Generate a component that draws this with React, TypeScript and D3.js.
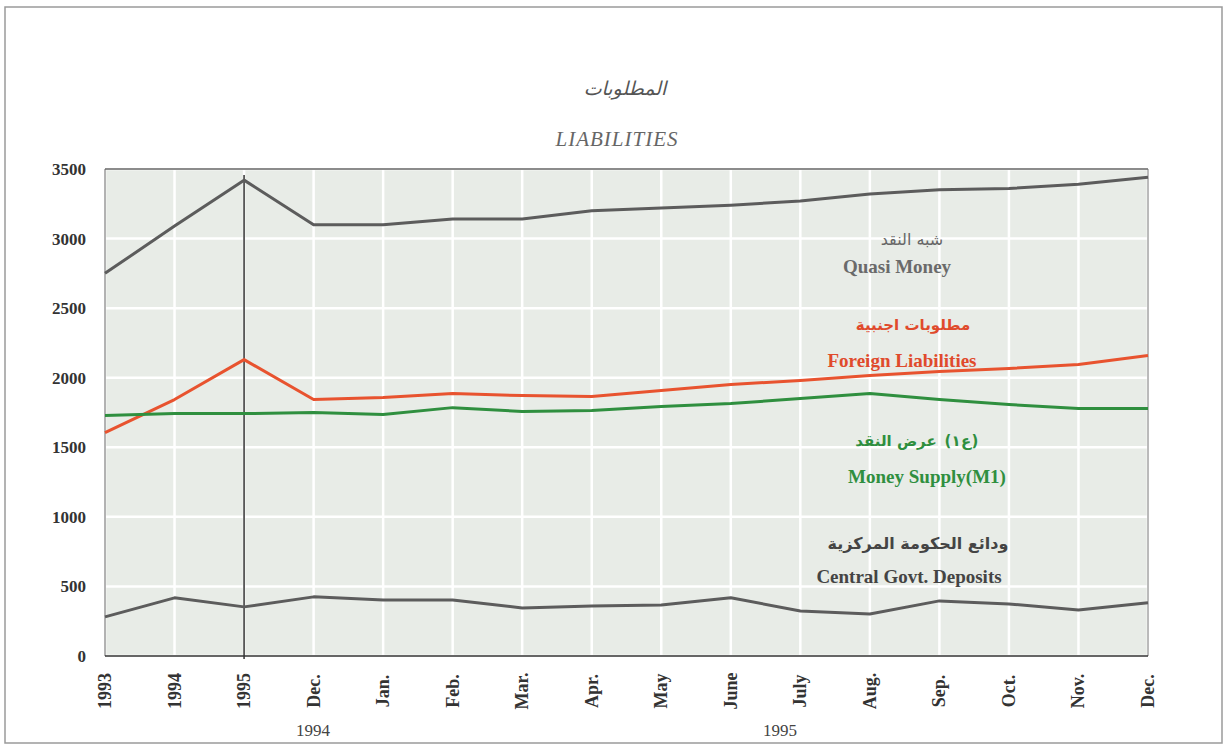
import React from "react";
import * as d3 from "d3";

const categories = ["1993", "1994", "1995", "Dec.", "Jan.", "Feb.", "Mar.", "Apr.", "May", "June", "July", "Aug.", "Sep.", "Oct.", "Nov.", "Dec."];
const quasiMoney = [2750, 3090, 3420, 3100, 3100, 3140, 3140, 3200, 3220, 3240, 3270, 3320, 3350, 3360, 3390, 3440];
const foreignLiabilities = [1605, 1843, 2130, 1843, 1857, 1886, 1872, 1865, 1908, 1951, 1980, 2016, 2045, 2066, 2095, 2160];
const moneySupply = [1728, 1742, 1742, 1750, 1735, 1785, 1757, 1764, 1793, 1814, 1850, 1886, 1843, 1807, 1778, 1778];
const centralGovt = [281, 418, 353, 425, 403, 403, 345, 360, 367, 418, 324, 302, 396, 374, 331, 382];
const yTicks = [0, 500, 1000, 1500, 2000, 2500, 3000, 3500];
const m1Glyphs = ["(", "١", "ع", ")"];

const W = 1229, H = 746;
const left = 105, right = 1148, top = 169, bottom = 656;

export default function App() {
  const x = d3.scalePoint<number>().domain(d3.range(categories.length)).range([left, right]);
  const y = d3.scaleLinear().domain([0, 3500]).range([bottom, top]);
  const line = d3.line<number>().x((_, i) => x(i)!).y((v) => y(v));
  const serif = "'Liberation Serif', 'Times New Roman', serif";
  const arabic = "'DejaVu Sans', sans-serif";
  const series = [
    { data: quasiMoney, color: "#5c5c5c" },
    { data: foreignLiabilities, color: "#e8532f" },
    { data: moneySupply, color: "#2f8f3f" },
    { data: centralGovt, color: "#5c5c5c" },
  ];
  const glyphX = [948, 956, 966, 975];
  return (
    <svg width={W} height={H} style={{ position: "absolute", left: 0, top: 0, background: "#fff" }}>
      <rect x={5} y={7} width={1217} height={736} fill="#fff" stroke="#9a9a9a" strokeWidth={1.5} />
      <text x={625} y={95} textAnchor="middle" fontFamily={arabic} fontStyle="italic" fontSize={19} fill="#555">المطلوبات</text>
      <text x={617} y={146} textAnchor="middle" fontFamily={serif} fontStyle="italic" fontSize={21} letterSpacing={1} fill="#666">LIABILITIES</text>
      <rect x={left} y={top} width={right - left} height={bottom - top} fill="#e8ece7" />
      {yTicks.map((t) => (
        <line key={"h" + t} x1={left} x2={right} y1={y(t)} y2={y(t)} stroke="#fff" strokeWidth={2.5} />
      ))}
      {categories.map((_, i) => (
        <line key={"v" + i} x1={x(i)} x2={x(i)} y1={top} y2={bottom} stroke="#fff" strokeWidth={2.5} />
      ))}
      <line x1={left} x2={right} y1={top} y2={top} stroke="#666" strokeWidth={1.5} />
      <line x1={left} x2={left} y1={top} y2={bottom} stroke="#666" strokeWidth={1} />
      <line x1={right} x2={right} y1={top} y2={bottom} stroke="#777" strokeWidth={1} />
      <line x1={left} x2={right} y1={bottom} y2={bottom} stroke="#333" strokeWidth={1.5} />
      <line x1={x(2)} x2={x(2)} y1={175} y2={bottom + 3} stroke="#333" strokeWidth={1.5} />
      {series.map((s, i) => (
        <path key={i} d={line(s.data)!} fill="none" stroke={s.color} strokeWidth={3} strokeLinejoin="round" />
      ))}
      {yTicks.map((t) => (
        <text key={"yl" + t} x={86} y={y(t) + 6} textAnchor="end" fontFamily={serif} fontWeight="bold" fontSize={17} fill="#333">{t}</text>
      ))}
      {categories.map((c, i) => (
        <text key={"xl" + i} transform={`translate(${x(i)! + 6},691) rotate(-90)`} textAnchor="middle" fontFamily={serif} fontWeight="bold" fontSize={18} fill="#333">{c}</text>
      ))}
      <text x={313} y={736} textAnchor="middle" fontFamily={serif} fontSize={17} fill="#444">1994</text>
      <text x={780} y={736} textAnchor="middle" fontFamily={serif} fontSize={17} fill="#444">1995</text>
      <g fontFamily={serif} fontWeight="bold" textAnchor="middle">
        <text x={912} y={245} fontSize={16} fontFamily={arabic} fontWeight="normal" fill="#666">شبه النقد</text>
        <text x={897} y={273} fontSize={19} fill="#6a6a6a">Quasi Money</text>
        <text x={913} y={330} fontSize={15} fontFamily={arabic} fill="#e04a2c">مطلوبات اجنبية</text>
        <text x={902} y={367} fontSize={19} fill="#e04a2c">Foreign Liabilities</text>
        <text x={896} y={446} fontSize={15} fontFamily={arabic} fill="#2f8f3f">عرض النقد</text>
        {m1Glyphs.map((g, i) => (
          <text key={"g" + i} x={glyphX[i]} y={446} fontSize={15} fontFamily={arabic} fill="#2f8f3f">{g}</text>
        ))}
        <text x={927} y={483} fontSize={19} fill="#2f8f3f">Money Supply(M1)</text>
        <text x={918} y={549} fontSize={16} fontFamily={arabic} fill="#444">ودائع الحكومة المركزية</text>
        <text x={909} y={583} fontSize={19} fill="#444">Central Govt. Deposits</text>
      </g>
    </svg>
  );
}
